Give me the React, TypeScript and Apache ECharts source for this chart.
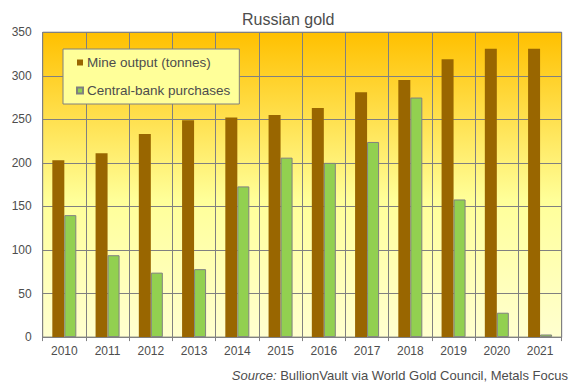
import React, { useEffect, useRef } from "react";
import * as echarts from "echarts";

const years = ["2010", "2011", "2012", "2013", "2014", "2015", "2016", "2017", "2018", "2019", "2020", "2021"];
const mineOutput = [203, 211, 233, 249, 252, 255, 263, 281, 295, 319, 331, 331];
const centralBank = [140, 94, 74, 78, 173, 206, 200, 224, 275, 158, 28, 3];
const yTicks = { min: 0, max: 350, interval: 50 };

const textColor = "#4d4d4d";
const gridColor = "#808080";
const font = "Liberation Sans, Arial, sans-serif";

export default function App() {
  const ref = useRef<HTMLDivElement>(null);
  useEffect(() => {
    if (!ref.current) return;
    const chart = echarts.init(ref.current, null, { renderer: "svg" });
    chart.setOption({
      animation: false,
      textStyle: { fontFamily: font },
      title: [
        {
          text: "Russian gold",
          left: 237,
          top: 6,
          textStyle: { fontSize: 16, fontWeight: "normal", color: textColor, fontFamily: font },
        },
        {
          text: "{i|Source:} BullionVault via World Gold Council, Metals Focus",
          right: 5,
          top: 364,
          textStyle: {
            fontSize: 13,
            fontWeight: "normal",
            color: textColor,
            fontFamily: font,
            rich: {
              i: { fontStyle: "italic", fontSize: 13, color: textColor, fontFamily: font },
            },
          },
        },
      ],
      legend: {
        orient: "vertical",
        left: 63,
        top: 49,
        itemWidth: 6,
        itemHeight: 6,
        itemGap: 13,
        icon: "rect",
        backgroundColor: "#FFFF99",
        borderColor: gridColor,
        borderWidth: 1,
        padding: [6, 9, 6, 13],
        textStyle: { fontSize: 13.5, color: textColor, lineHeight: 15, padding: [0, 0, 0, -1] },
        data: ["Mine output (tonnes)", "Central-bank purchases"],
      },
      grid: {
        left: 42.7,
        right: 16.3,
        top: 32.2,
        bottom: 47.9,
        show: true,
        borderColor: gridColor,
        borderWidth: 1,
        backgroundColor: new echarts.graphic.LinearGradient(0, 0, 0, 1, [
          { offset: 0, color: "#FFC000" },
          { offset: 0.55, color: "#FFFF99" },
          { offset: 1, color: "#FFFFD0" },
        ]),
      },
      xAxis: {
        type: "category",
        data: years,
        boundaryGap: true,
        axisLine: { show: true, lineStyle: { color: gridColor, width: 1 } },
        axisTick: { show: true, length: 4, lineStyle: { color: gridColor } },
        axisLabel: { fontSize: 12, color: textColor, margin: 8 },
        splitLine: { show: true, lineStyle: { color: gridColor, width: 1 } },
      },
      yAxis: {
        type: "value",
        min: yTicks.min,
        max: yTicks.max,
        interval: yTicks.interval,
        axisLine: { show: false },
        axisTick: { show: false },
        axisLabel: { fontSize: 12, color: textColor, margin: 11 },
        splitLine: { show: true, lineStyle: { color: gridColor, width: 1 } },
      },
      series: [
        {
          name: "Mine output (tonnes)",
          type: "bar",
          data: mineOutput,
          barWidth: 12,
          barGap: "0%",
          itemStyle: { color: "#996600" },
        },
        {
          name: "Central-bank purchases",
          type: "bar",
          data: centralBank,
          barWidth: 12,
          barGap: "0%",
          itemStyle: { color: "#92D050", borderColor: gridColor, borderWidth: 1 },
        },
      ],
    });
    return () => chart.dispose();
  }, []);
  return <div ref={ref} style={{ width: 578, height: 385, position: "absolute", left: 0, top: 0 }} />;
}
